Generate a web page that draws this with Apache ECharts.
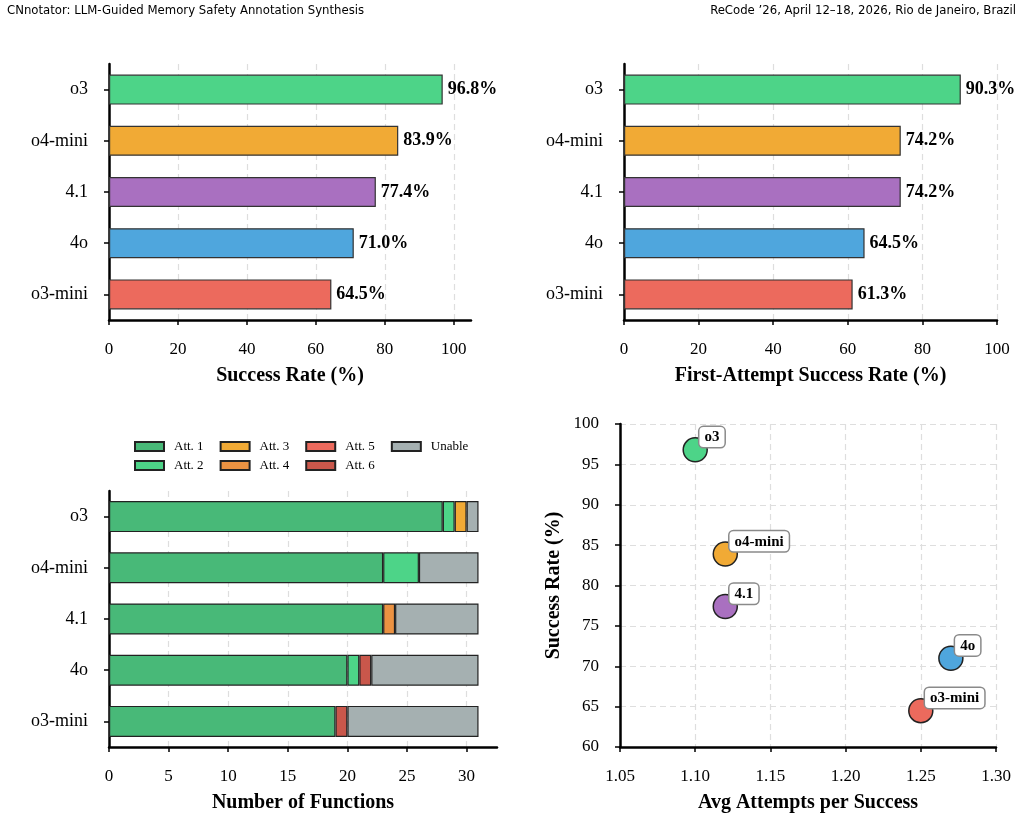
<!DOCTYPE html>
<html>
<head>
<meta charset="utf-8">
<script src="https://cdn.jsdelivr.net/npm/echarts@6/dist/echarts.min.js"></script>
<style>
  html, body { margin: 0; padding: 0; background: #fff; }
  #chart { width: 1021px; height: 817px; }
</style>
</head>
<body>
<div id="chart"></div>
<script>
const models = ['o3', 'o4-mini', '4.1', '4o', 'o3-mini'];
const modelColors = ['#4dd488', '#f1aa35', '#a970c0', '#4fa6dd', '#ec6a5d'];
const successRate = [96.8, 83.9, 77.4, 71.0, 64.5];
const firstAttemptRate = [90.3, 74.2, 74.2, 64.5, 61.3];

const attemptNames = ['Att. 1', 'Att. 2', 'Att. 3', 'Att. 4', 'Att. 5', 'Att. 6', 'Unable'];
const attemptColors = ['#48b978', '#4dd488', '#f1aa35', '#eb9242', '#ec6a5d', '#c9574b', '#a5b0b1'];
// functions per model resolved at each attempt (o3, o4-mini, 4.1, 4o, o3-mini)
const attemptCounts = [
  [28, 23, 23, 20, 19],
  [1, 3, 0, 1, 0],
  [1, 0, 0, 0, 0],
  [0, 0, 1, 0, 0],
  [0, 0, 0, 0, 0],
  [0, 0, 0, 1, 1],
  [1, 5, 7, 9, 11]
];

const avgAttempts = [1.10, 1.12, 1.12, 1.27, 1.25];

const serif = 'Liberation Serif';
const pctTicks = [0, 20, 40, 60, 80, 100];

const chart = echarts.init(document.getElementById('chart'));

const axisLineStyle = { show: true, lineStyle: { color: '#000', width: 2.5 } };
const tickStyle = { show: true, length: 5, lineStyle: { color: '#000', width: 1.5 } };
const gridDash = { show: true, lineStyle: { color: '#dedede', width: 1.2, type: [6, 4] } };
const labelFont = { color: '#000', fontFamily: serif, fontSize: 17 };
const catFont = { color: '#000', fontFamily: serif, fontSize: 18 };
const nameFont = { color: '#000', fontFamily: serif, fontSize: 20, fontWeight: 'bold' };

function valueXAxis(gridIndex, max, name, custom) {
  const ax = {
    type: 'value', gridIndex: gridIndex, min: 0, max: max, interval: custom ? custom[1] : 20,
    name: name, nameLocation: 'middle', nameGap: 46, nameTextStyle: nameFont,
    axisLine: axisLineStyle, axisTick: Object.assign({}, tickStyle),
    axisLabel: Object.assign({ margin: 21 }, labelFont),
    splitLine: Object.assign({}, gridDash)
  };
  if (custom) {
    ax.axisTick.customValues = custom;
    ax.axisLabel.customValues = custom;
    ax.splitLine.customValues = custom;
  }
  return ax;
}

function catYAxis(gridIndex) {
  return {
    type: 'category', gridIndex: gridIndex, data: models, inverse: true,
    axisLine: axisLineStyle,
    axisTick: Object.assign({ alignWithLabel: true }, tickStyle),
    axisLabel: Object.assign({ margin: 21 }, catFont),
    splitLine: { show: false }
  };
}

const allSeries = [];
function rateSeries(data, axisIdx) {
  return {
    type: 'bar', xAxisIndex: axisIdx, yAxisIndex: axisIdx, barWidth: 30,
    data: data.map((v, i) => ({ value: v, itemStyle: { color: modelColors[i] } })),
    itemStyle: { borderColor: '#333', borderWidth: 1.2 },
    label: {
      show: true, position: 'right', distance: 5,
      fontFamily: serif, fontSize: 18, fontWeight: 'bold', color: '#000',
      formatter: p => p.value.toFixed(1) + '%'
    },
    silent: true
  };
}
allSeries.push(rateSeries(successRate, 0));
allSeries.push(rateSeries(firstAttemptRate, 1));

attemptNames.forEach((name, k) => {
  allSeries.push({
    type: 'bar', name: name, stack: 'att', xAxisIndex: 2, yAxisIndex: 2, barWidth: 31,
    data: attemptCounts[k].map(v => (v === 0 ? '-' : v)),
    itemStyle: { color: attemptColors[k], borderColor: '#222', borderWidth: 1.2 },
    silent: true
  });
});

allSeries.push({
  type: 'scatter', xAxisIndex: 3, yAxisIndex: 3, symbolSize: 24,
  data: models.map((m, i) => ({
    name: m, value: [avgAttempts[i], successRate[i]],
    itemStyle: { color: modelColors[i] }
  })),
  itemStyle: { borderColor: '#222', borderWidth: 1.5, opacity: 1 },
  label: {
    show: true, position: [17, 10], align: 'left', verticalAlign: 'bottom',
    formatter: p => p.name,
    fontFamily: serif, fontSize: 15, fontWeight: 'bold', color: '#000',
    backgroundColor: '#fff', borderColor: '#8a8a8a', borderWidth: 1.5, borderRadius: 4,
    padding: [3, 5, 2, 5]
  },
  silent: true
});

const legendText = { fontFamily: serif, fontSize: 13, color: '#000', width: 40, padding: [0, 0, 0, 5] };

chart.setOption({
  animation: false,
  backgroundColor: '#fff',
  graphic: [
    { type: 'text', left: 7, top: 4, style: { text: 'CNnotator: LLM-Guided Memory Safety Annotation Synthesis', font: '13px "Liberation Sans Narrow", "DejaVu Sans Condensed", sans-serif', fill: '#000' } },
    { type: 'text', right: 5, top: 4, style: { text: 'ReCode \u201926, April 12\u201318, 2026, Rio de Janeiro, Brazil', font: '13px "Liberation Sans Narrow", "DejaVu Sans Condensed", sans-serif', fill: '#000' } }
  ],
  legend: [
    {
      data: ['Att. 1', 'Att. 3', 'Att. 5', 'Unable'], left: 134, top: 440, padding: 0, icon: 'rect',
      itemWidth: 29, itemHeight: 9, itemGap: 16, textStyle: legendText, selectedMode: false
    },
    {
      data: ['Att. 2', 'Att. 4', 'Att. 6'], left: 134, top: 459, padding: 0, icon: 'rect',
      itemWidth: 29, itemHeight: 9, itemGap: 16, textStyle: legendText, selectedMode: false
    }
  ],
  grid: [
    { left: 109, top: 64, width: 362, height: 256 },
    { left: 624, top: 64, width: 373, height: 256 },
    { left: 109, top: 491, width: 388, height: 256 },
    { left: 620, top: 424, width: 376, height: 323 }
  ],
  xAxis: [
    valueXAxis(0, 105, 'Success Rate (%)', pctTicks),
    valueXAxis(1, 100, 'First-Attempt Success Rate (%)', null),
    valueXAxis(2, 32.55, 'Number of Functions', [0, 5, 10, 15, 20, 25, 30]),
    {
      type: 'value', gridIndex: 3, min: 1.05, max: 1.30, interval: 0.05,
      name: 'Avg Attempts per Success', nameLocation: 'middle', nameGap: 46, nameTextStyle: nameFont,
      axisLine: axisLineStyle, axisTick: tickStyle,
      axisLabel: Object.assign({ margin: 21, formatter: v => v.toFixed(2) }, labelFont),
      splitLine: gridDash
    }
  ],
  yAxis: [
    catYAxis(0), catYAxis(1), catYAxis(2),
    {
      type: 'value', gridIndex: 3, min: 60, max: 100, interval: 5,
      name: 'Success Rate (%)', nameLocation: 'middle', nameGap: 56, nameTextStyle: nameFont,
      axisLine: axisLineStyle, axisTick: tickStyle,
      axisLabel: Object.assign({ margin: 21 }, labelFont),
      splitLine: gridDash
    }
  ],
  series: allSeries
});
</script>
</body>
</html>
